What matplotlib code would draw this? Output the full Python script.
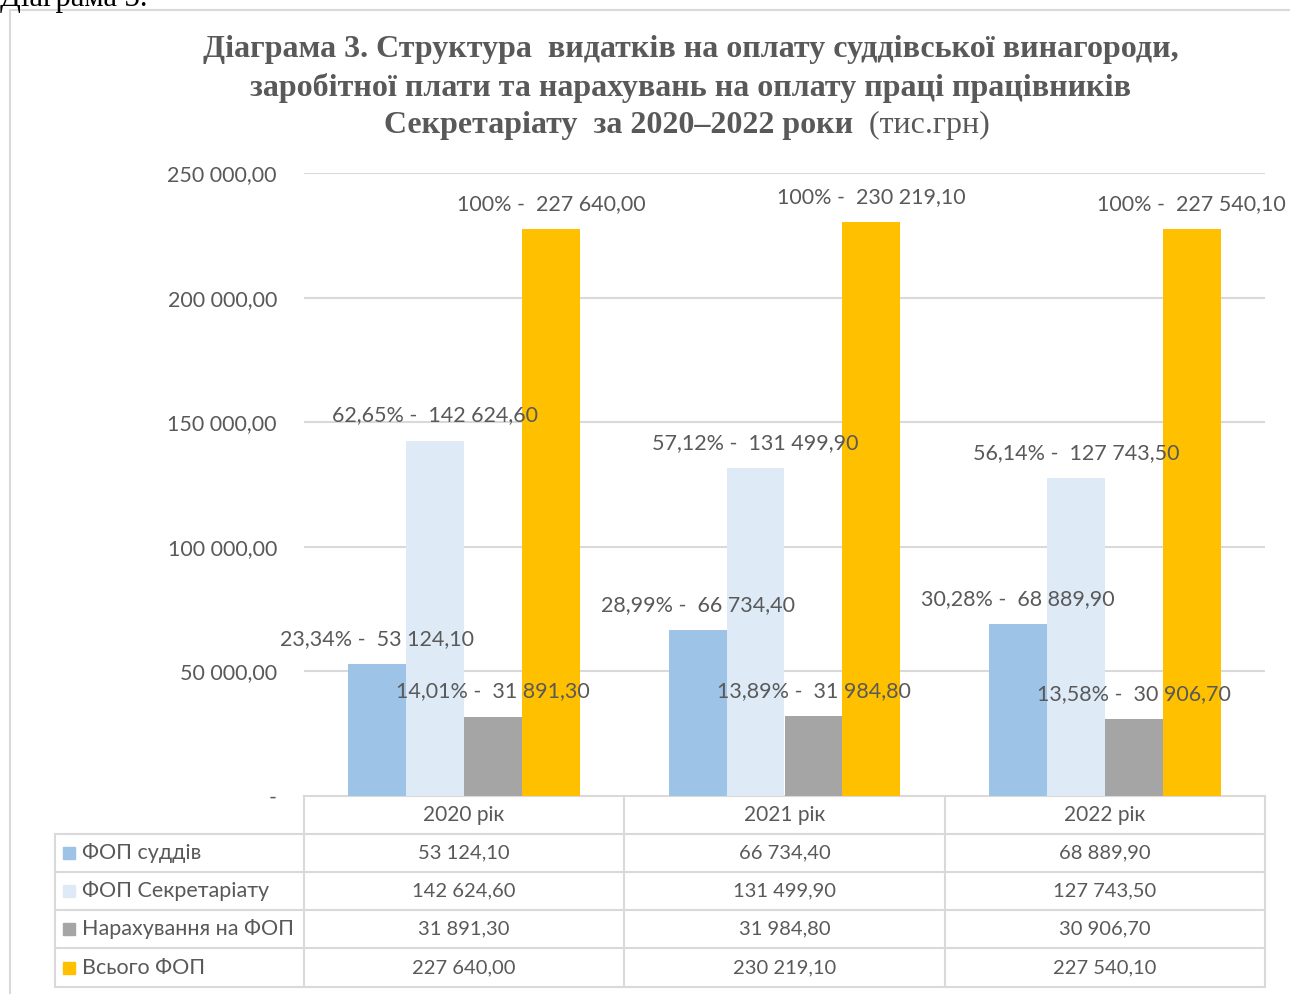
import matplotlib.pyplot as plt
import numpy as np
from matplotlib.patches import Rectangle

# Data
years = ['2020 рік', '2021 рік', '2022 рік']
series = ['ФОП суддів', 'ФОП Секретаріату', 'Нарахування на ФОП', 'Всього ФОП']
fop_suddiv = [53124.10, 66734.40, 68889.90]
fop_secr = [142624.60, 131499.90, 127743.50]
narahuv = [31891.30, 31984.80, 30906.70]
vsogo = [227640.00, 230219.10, 227540.10]
colors = ['#9DC3E6', '#DEEBF7', '#A5A5A5', '#FFC000']
yticks = [0, 50000, 100000, 150000, 200000, 250000]

values = [fop_suddiv, fop_secr, narahuv, vsogo]
txt = '#595959'
FONT = 'Lato'
W, H = 1290, 994


def fmt(v):
    return f'{v:,.2f}'.replace(',', ' ').replace('.', ',')


def pct(v, t):
    p = v / t * 100
    if abs(p - 100) < 1e-9:
        return '100%'
    return f'{p:.2f}'.replace('.', ',') + '%'


fig = plt.figure(figsize=(W / 100, H / 100), dpi=100)

# overlay in pixel coordinates for border, title, table
ov = fig.add_axes([0, 0, 1, 1])
ov.set_xlim(0, W)
ov.set_ylim(H, 0)
ov.axis('off')

# chart border
ov.plot([10, 10], [10, H + 5], color='#d9d9d9', lw=1.5)
ov.plot([10, W + 5], [10, 10], color='#d9d9d9', lw=1.5)
# caption of the page above the chart, cut at the top edge as in the source
fig.text(0.0, 1 - 6 / H, 'Діаграма 3.', family='Liberation Serif', fontsize=22,
         va='baseline', ha='left', color='black')

# title
tkw = dict(va='center', family='Liberation Serif', fontsize=23, color=txt)
ov.text(691, 50, 'Діаграма 3. Структура  видатків на оплату суддівської винагороди,',
        ha='center', weight='bold', **tkw)
ov.text(690, 88, 'заробітної плати та нарахувань на оплату праці працівників',
        ha='center', weight='bold', **tkw)
ov.text(853, 125, '  (тис.грн)', ha='left', **tkw)
ov.text(853, 125, 'Секретаріату  за 2020–2022 роки', ha='right', weight='bold', **tkw)

# main chart
x0, x1, ytop, ybot = 304, 1265, 173, 796
ax = fig.add_axes([x0 / W, (H - ybot) / H, (x1 - x0) / W, (ybot - ytop) / H])
ax.set_xlim(-0.5, 2.5)
ax.set_ylim(0, 250000)
for s in ax.spines.values():
    s.set_visible(False)
ax.set_xticks([])
ax.set_yticks(yticks)
ax.set_yticklabels(['-'] + [fmt(v) for v in yticks[1:]], family=FONT,
                   fontsize=15.5, color=txt)
ax.tick_params(axis='y', length=0, pad=19.5)
ax.grid(axis='y', color='#d9d9d9', lw=1.5)
ax.set_axisbelow(True)

w = 0.181
x = np.arange(len(years))
for i, (vals, c) in enumerate(zip(values, colors)):
    pos = x + (i - 1.5) * w
    bars = ax.bar(pos, vals, w, color=c, zorder=2)
    for b, v, t in zip(bars, vals, vsogo):
        ax.annotate(f'{pct(v, t)} -  {fmt(v)}', (b.get_x() + b.get_width() / 2, v),
                    xytext=(0, 18), textcoords='offset points', ha='center',
                    va='center', family=FONT, fontsize=15.5, color=txt, zorder=3)

# data table
lc = '#d9d9d9'
cols = [304, 624, 945, 1265]
rows = [796, 834, 872, 910, 948, 987]
left = 55
ov.plot([cols[0], cols[-1]], [rows[0], rows[0]], color=lc, lw=1.5)
for r in rows[1:]:
    ov.plot([left, cols[-1]], [r, r], color=lc, lw=1.5)
for cx in cols:
    ov.plot([cx, cx], [rows[0], rows[-1]], color=lc, lw=1.5)
ov.plot([left, left], [rows[1], rows[-1]], color=lc, lw=1.5)

for j, yr in enumerate(years):
    ov.text((cols[j] + cols[j + 1]) / 2, (rows[0] + rows[1]) / 2, yr, ha='center',
            va='center', family=FONT, fontsize=15, color=txt)
for i, (name, vals, c) in enumerate(zip(series, values, colors)):
    yc = (rows[i + 1] + rows[i + 2]) / 2
    ov.add_patch(Rectangle((63, yc - 6), 12, 12, color=c))
    ov.text(82, yc, name, ha='left', va='center', family=FONT, fontsize=15.5, color=txt)
    for j, v in enumerate(vals):
        ov.text((cols[j] + cols[j + 1]) / 2, yc, fmt(v), ha='center', va='center',
                family=FONT, fontsize=14.5, color=txt)

fig.savefig('out.png', dpi=100)
